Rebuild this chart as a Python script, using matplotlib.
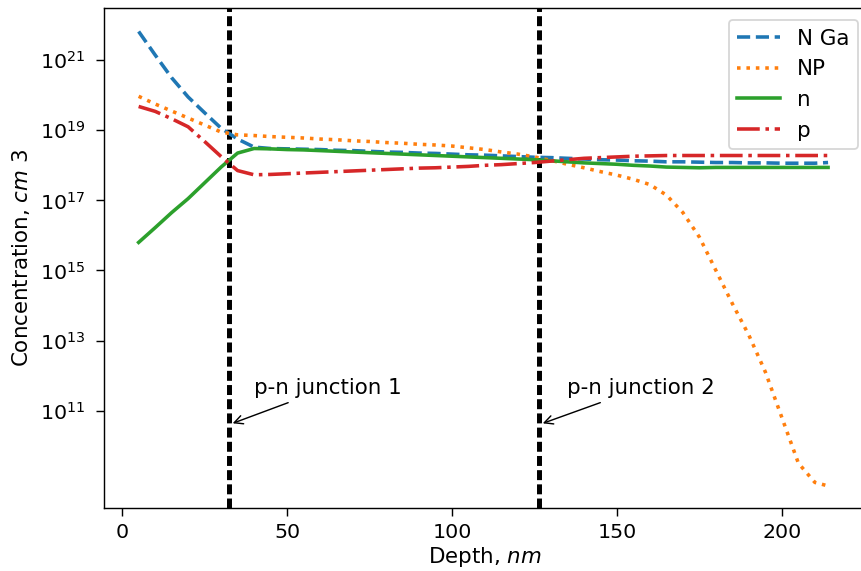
import numpy as np
import matplotlib
matplotlib.use("Agg")
import matplotlib.pyplot as plt

depth = [5, 10, 15, 20, 25, 30, 35, 40, 45, 50, 55, 60, 65, 70, 75, 80, 85, 90, 95, 100,
         105, 110, 115, 120, 125, 130, 135, 140, 145, 150, 155, 160, 165, 170, 175, 180,
         185, 190, 195, 200, 205, 210, 214]

# log10 of concentrations
log_nga = [21.82, 21.15, 20.50, 19.95, 19.50, 19.06, 18.75, 18.52, 18.48, 18.47, 18.46, 18.45,
           18.43, 18.42, 18.40, 18.38, 18.37, 18.35, 18.34, 18.32, 18.30, 18.29, 18.27, 18.25,
           18.23, 18.22, 18.20, 18.18, 18.16, 18.15, 18.13, 18.12, 18.10, 18.10, 18.09, 18.08,
           18.08, 18.07, 18.07, 18.06, 18.06, 18.06, 18.08]
log_np = [19.97, 19.75, 19.55, 19.35, 19.15, 18.95, 18.87, 18.85, 18.82, 18.80, 18.78, 18.75,
          18.73, 18.70, 18.68, 18.65, 18.63, 18.60, 18.58, 18.55, 18.50, 18.45, 18.38, 18.32,
          18.24, 18.14, 18.03, 17.93, 17.82, 17.72, 17.60, 17.45, 17.15, 16.65, 15.95, 15.00,
          14.05, 13.15, 12.10, 10.80, 9.50, 8.95, 8.85]
log_n = [15.80, 16.22, 16.65, 17.05, 17.50, 17.95, 18.35, 18.48, 18.47, 18.45, 18.44, 18.42,
         18.40, 18.38, 18.36, 18.34, 18.32, 18.30, 18.28, 18.26, 18.24, 18.22, 18.20, 18.18,
         18.16, 18.13, 18.10, 18.07, 18.05, 18.03, 18.00, 17.98, 17.95, 17.94, 17.93, 17.94,
         17.94, 17.94, 17.94, 17.94, 17.94, 17.94, 17.94]
log_p = [19.68, 19.54, 19.33, 19.10, 18.68, 18.25, 17.85, 17.73, 17.74, 17.76, 17.78, 17.80,
         17.82, 17.84, 17.86, 17.88, 17.90, 17.92, 17.93, 17.95, 17.97, 18.00, 18.02, 18.05,
         18.08, 18.12, 18.16, 18.20, 18.22, 18.24, 18.26, 18.27, 18.28, 18.28, 18.28, 18.28,
         18.28, 18.28, 18.28, 18.28, 18.28, 18.28, 18.28]

labels = ["N Ga", "NP", "n", "p"]
junctions = [32.5, 126.5]
junction_labels = ["p-n junction 1", "p-n junction 2"]
junction_text_x = [40, 135]
xticks = [0, 50, 100, 150, 200]
yticks = [1e11, 1e13, 1e15, 1e17, 1e19, 1e21]

DPI = 128
plt.rcParams['font.size'] = 12
fig = plt.figure(figsize=(861 / DPI, 571 / DPI), dpi=DPI)
ax = fig.add_axes([104 / 861, 63 / 571, 762 / 861, 500 / 571])

for xj in junctions:
    ax.axvline(xj, color="black", lw=2.8, linestyle=(0, (2.0, 0.85)))

d = np.array(depth)
LW = 2.0
ax.plot(d, 10 ** np.array(log_nga), '--', lw=LW, label=labels[0])
ax.plot(d, 10 ** np.array(log_np), ':', lw=LW, label=labels[1])
ax.plot(d, 10 ** np.array(log_n), '-', lw=LW, label=labels[2])
ax.plot(d, 10 ** np.array(log_p), '-.', lw=LW, label=labels[3])

ax.set_yscale("log")
ax.set_xlim(-5.5, 225.5)
ax.set_ylim(10 ** 8.22, 10 ** 22.49)
ax.set_xticks(xticks)
ax.set_yticks(yticks)
ax.yaxis.set_minor_locator(matplotlib.ticker.NullLocator())
ax.tick_params(axis='x', labelsize=11.5, length=4.5, pad=4.0)
ax.tick_params(axis='y', labelsize=11.5, length=4.5, pad=6.2)

for xj, lab, tx in zip(junctions, junction_labels, junction_text_x):
    ax.annotate(lab, xy=(xj, 4e10), xytext=(tx, 3e11), fontsize=12,
                arrowprops=dict(arrowstyle="->", lw=0.8, color="black"))

ax.set_xlabel("Depth, $nm$", fontsize=12, labelpad=1.5)
ax.set_ylabel("Concentration, $cm$ 3", fontsize=12)
ax.legend(loc="upper right", borderaxespad=0, fontsize=12,
          bbox_to_anchor=((858 - 104) / 762, (571 - 20 - 63) / 500))

fig.savefig("out.png", dpi=DPI)
